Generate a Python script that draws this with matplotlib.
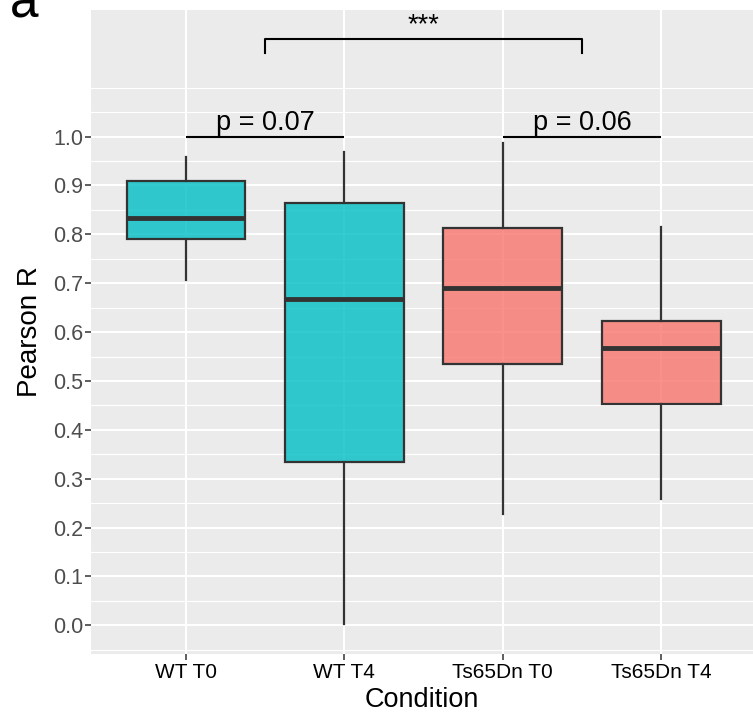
import matplotlib
matplotlib.use("Agg")
import matplotlib.pyplot as plt
import numpy as np

plt.rcParams['font.family'] = ['Liberation Sans', 'DejaVu Sans']

categories = ["WT T0", "WT T4", "Ts65Dn T0", "Ts65Dn T4"]
whislo = [0.707, 0.003, 0.227, 0.258]
q1 = [0.790, 0.334, 0.535, 0.452]
med = [0.833, 0.668, 0.690, 0.567]
q3 = [0.910, 0.864, 0.812, 0.623]
whishi = [0.959, 0.969, 0.987, 0.816]
genotype = ["WT", "WT", "Ts65Dn", "Ts65Dn"]
palette = {"WT": "#00BFC4", "Ts65Dn": "#F8766D"}

pair_labels = ["p = 0.07", "p = 0.06"]
pair_idx = [(0, 1), (2, 3)]
pair_y = 1.0
bracket_label = "***"
bracket_x = (1.5, 3.5)
bracket_y = 1.2
bracket_tip = 0.03

fig = plt.figure(figsize=(7.53, 7.19), dpi=100)
ax = fig.add_axes([91/753, 1-654/719, 1-91/753, (654-10)/719])
ax.set_facecolor("#EBEBEB")
for s in ax.spines.values():
    s.set_visible(False)

x = np.arange(1, len(categories)+1)
ax.set_xlim(0.4, 4.58)
ax.set_ylim(-0.0587, 1.259)

# grid
major_y = np.round(np.arange(0, 1.01, 0.1), 2)
minor_y = np.round(np.arange(-0.05, 1.11, 0.05), 2)
minor_y = [v for v in minor_y if not np.any(np.isclose(v, major_y))]
for v in minor_y:
    ax.axhline(v, color="white", lw=0.8, zorder=0.5)
for v in major_y:
    ax.axhline(v, color="white", lw=1.5, zorder=0.6)
for v in x:
    ax.axvline(v, color="white", lw=1.5, zorder=0.6)

stats = []
for i, c in enumerate(categories):
    stats.append(dict(label=c, whislo=whislo[i], q1=q1[i], med=med[i],
                      q3=q3[i], whishi=whishi[i], fliers=[]))
bp = ax.bxp(stats, positions=x, widths=0.75, patch_artist=True,
            showcaps=False, showfliers=False,
            boxprops=dict(edgecolor="#333333", linewidth=1.6),
            whiskerprops=dict(color="#333333", linewidth=1.6),
            medianprops=dict(color="#333333", linewidth=3.5, solid_capstyle='butt'),
            zorder=2)
for patch, g in zip(bp['boxes'], genotype):
    patch.set_facecolor(matplotlib.colors.to_rgba(palette[g], 0.8))

# significance
for (a, b), lab in zip(pair_idx, pair_labels):
    ax.plot([x[a], x[b]], [pair_y, pair_y], color="black", lw=1.5, zorder=3,
            solid_capstyle='butt')
    ax.text((x[a]+x[b])/2, pair_y+0.013, lab, ha="center", va="baseline",
            fontsize=19.5, color="black", zorder=4)
bx0, bx1 = bracket_x
ax.plot([bx0, bx0, bx1, bx1], [bracket_y-bracket_tip, bracket_y, bracket_y, bracket_y-bracket_tip],
        color="black", lw=1.5, zorder=3)
ax.text((bx0+bx1)/2, bracket_y+0.014, bracket_label, ha="center", va="baseline",
        fontsize=19.5, color="black")

ax.set_xticks(x)
ax.set_xticklabels(categories)
ax.set_yticks(major_y)
ax.set_yticklabels([f"{v:.1f}" for v in major_y])
ax.tick_params(axis="y", length=4.3, width=1.1, color="#333333", labelsize=15.5,
               labelcolor="#4D4D4D", pad=1.5)
ax.tick_params(axis="x", length=4.3, width=1.1, color="#333333", labelsize=15,
               labelcolor="black", pad=2.5)
ax.set_xlabel("Condition", fontsize=19.5, labelpad=3)
ax.set_ylabel("Pearson R", fontsize=20, labelpad=7)

fig.text(10/753, 1-17/719, "a", fontsize=37, ha="left", va="baseline")

fig.savefig("out.png", dpi=100)
